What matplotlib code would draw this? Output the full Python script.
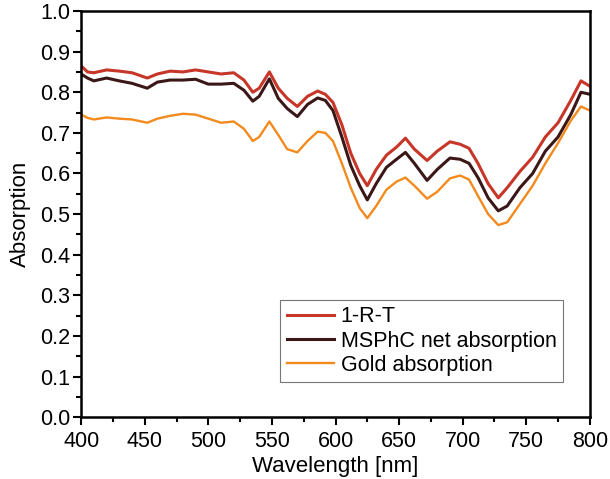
import matplotlib.pyplot as plt
from matplotlib.ticker import MultipleLocator

plt.rcParams['font.family'] = ['Liberation Sans', 'DejaVu Sans']

wavelength = [400, 405, 410, 420, 430, 440, 452, 460, 470, 480, 490, 500, 510, 520, 528,
              535, 540, 548, 555, 562, 570, 578, 586, 592, 598, 605, 612, 619, 625, 632,
              640, 648, 655, 662, 672, 680, 690, 698, 705, 712, 720, 728, 735, 745, 755,
              765, 775, 785, 793, 800]

one_r_t = [0.865, 0.850, 0.848, 0.855, 0.852, 0.848, 0.835, 0.845, 0.852, 0.850, 0.855, 0.850,
           0.845, 0.848, 0.830, 0.800, 0.810, 0.850, 0.810, 0.785, 0.765, 0.790, 0.803, 0.795,
           0.775, 0.720, 0.650, 0.600, 0.570, 0.610, 0.645, 0.665, 0.687, 0.660, 0.632, 0.655,
           0.678, 0.672, 0.662, 0.625, 0.575, 0.540, 0.565, 0.605, 0.640, 0.690, 0.725, 0.780,
           0.828, 0.815]

msphc_net = [0.845, 0.835, 0.828, 0.835, 0.828, 0.822, 0.810, 0.825, 0.830, 0.830, 0.832, 0.820,
             0.820, 0.822, 0.805, 0.778, 0.790, 0.833, 0.785, 0.760, 0.740, 0.770, 0.786, 0.780,
             0.755, 0.690, 0.620, 0.570, 0.535, 0.575, 0.615, 0.635, 0.652, 0.625, 0.583, 0.610,
             0.638, 0.635, 0.625, 0.590, 0.540, 0.508, 0.520, 0.565, 0.600, 0.655, 0.690, 0.745,
             0.800, 0.795]

gold = [0.745, 0.737, 0.733, 0.738, 0.735, 0.733, 0.725, 0.735, 0.742, 0.747, 0.745, 0.735,
        0.725, 0.728, 0.710, 0.680, 0.690, 0.728, 0.695, 0.660, 0.652, 0.680, 0.703, 0.700,
        0.680, 0.625, 0.565, 0.515, 0.490, 0.520, 0.560, 0.580, 0.590, 0.570, 0.538, 0.555,
        0.588, 0.595, 0.585, 0.545, 0.500, 0.473, 0.480, 0.525, 0.570, 0.625, 0.675, 0.730,
        0.765, 0.755]

fig = plt.figure(figsize=(6.1, 4.79), dpi=100)
ax = fig.add_axes([0.133, 0.129, 0.834, 0.848])

ax.plot(wavelength, one_r_t, color='#c73628', lw=2.2, label='1-R-T')
ax.plot(wavelength, msphc_net, color='#3b1717', lw=2.2, label='MSPhC net absorption')
ax.plot(wavelength, gold, color='#f28a1e', lw=1.7, label='Gold absorption')

ax.set_xlim(400, 800)
ax.set_ylim(0, 1.0)
ax.xaxis.set_major_locator(MultipleLocator(50))
ax.xaxis.set_minor_locator(MultipleLocator(25))
ax.yaxis.set_major_locator(MultipleLocator(0.1))
ax.yaxis.set_minor_locator(MultipleLocator(0.05))
ax.tick_params(which='both', direction='out', width=1.5, labelsize=15.5, top=False, right=False,
               pad=2)
ax.tick_params(axis='x', which='major', pad=4)
ax.tick_params(which='major', length=6)
ax.tick_params(which='minor', length=3.5)
for s in ax.spines.values():
    s.set_linewidth(1.8)

ax.set_xlabel('Wavelength [nm]', fontsize=16, labelpad=3)
ax.set_ylabel('Absorption', fontsize=16, labelpad=6)

leg = ax.legend(loc='lower right', bbox_to_anchor=(0.947, 0.086), borderaxespad=0,
                fontsize=15.5, frameon=True, fancybox=False, edgecolor='#555555',
                handlelength=2.2, handletextpad=0.3, borderpad=0.3, labelspacing=0.15)
leg.get_frame().set_linewidth(0.8)

plt.savefig('out.png')
